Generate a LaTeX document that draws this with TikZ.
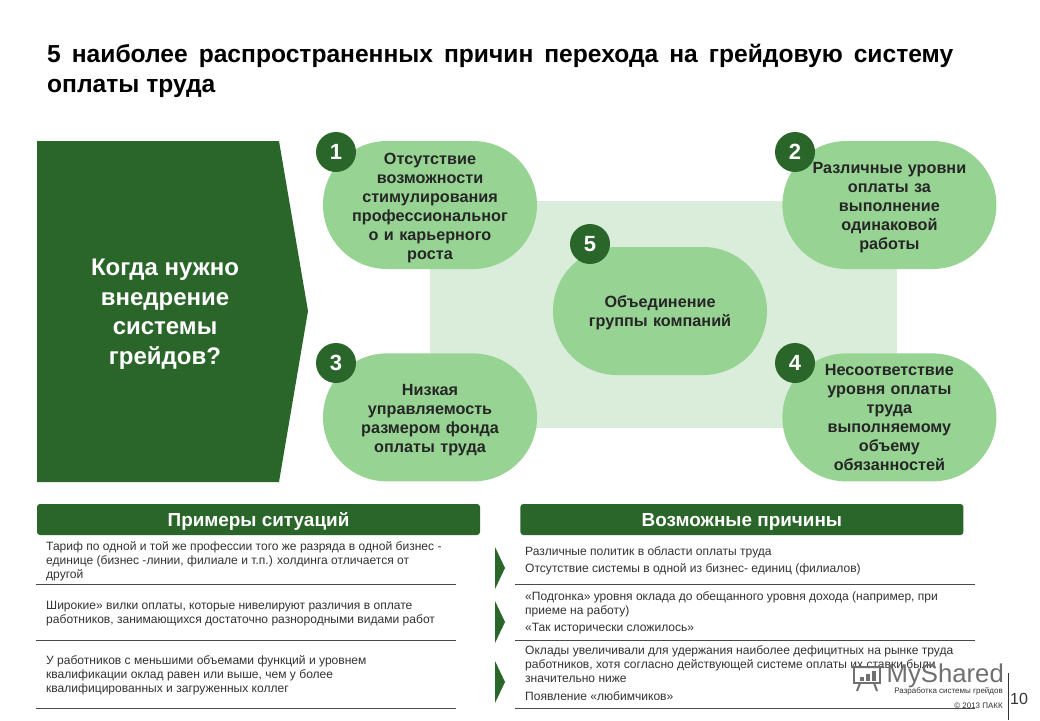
\documentclass[tikz,border=0pt]{standalone}
\usepackage{fontspec}
\setmainfont{Liberation Sans}
\usepackage{tikz}
\usetikzlibrary{positioning}
\definecolor{grDark}{HTML}{2A6529}
\definecolor{grPill}{HTML}{97D494}
\definecolor{grPale}{HTML}{DAEDDA}
\definecolor{grText}{HTML}{333333}
\definecolor{grRule}{HTML}{4A4A4A}
\definecolor{grMark}{HTML}{707070}
\tikzset{
    grPillBase/.style={
        rectangle,
        rounded corners=63.9pt,
        fill=grPill,
        minimum width=214pt,
        minimum height=128pt,
        inner sep=0pt,
        text width=190pt,
        align=center,
        text=black!85,
        font=\fontsize{16.2}{19}\selectfont\bfseries,
        execute at begin node={\rule{0pt}{#1}}
    },
    grPillBase/.default=15.7pt,
    grBadge/.style={
        circle,
        fill=grDark,
        minimum size=40pt,
        inner sep=0pt,
        text=white,
        font=\fontsize{22}{24}\selectfont\bfseries
    },
    grHeader/.style={
        rectangle,
        rounded corners=3pt,
        fill=grDark,
        minimum width=443pt,
        minimum height=31pt,
        inner sep=0pt,
        text height=13pt,
        text depth=0pt,
        text=white,
        font=\fontsize{18.9}{20}\selectfont\bfseries
    },
    grNote/.style={
        anchor=north west,
        inner sep=0pt,
        text=grText,
        align=left,
        font=\fontsize{12.05}{14}\selectfont
    },
    grRuleLine/.style={draw=grRule, line width=1pt},
    grChevron/.style={fill=grDark},
    grFooter/.style={anchor=east, inner sep=0pt, text=grText, font=\fontsize{8}{9}\selectfont}
}
\begin{document}
\begin{tikzpicture}[x=1pt,y=-1pt]
\useasboundingbox (0,0) rectangle (1040,720);
\fill[white] (0,0) rectangle (1040,720);

% Title
\node[anchor=north west, inner sep=0pt, align=left,
      font=\fontsize{24.6}{30}\selectfont\bfseries, text=black] (title) at (47,44)
    {\makebox[906pt][s]{5 наиболее распространенных причин перехода на грейдовую систему}\\оплаты труда};

% Left panel
\fill[grDark] (37,141) -- (279,141) -- (308,311) -- (279,482) -- (37,482) -- cycle;
\node[align=center, text=white, font=\fontsize{24}{29.5}\selectfont\bfseries] (question) at (165,314)
    {Когда нужно\\внедрение\\системы\\грейдов?};

% Pills
\fill[grPale] (430,201) rectangle (897,428);
\node[grPillBase=17.7pt] (pillOne) at (430,205)
    {Отсутствие\\возможности\\стимулирования\\профессиональног\\о и карьерного\\роста};
\node[grPillBase, right=245pt of pillOne] (pillTwo)
    {Различные уровни\\оплаты за\\выполнение\\одинаковой\\работы};
\node[grPillBase, below=84pt of pillOne] (pillThree)
    {Низкая\\управляемость\\размером фонда\\оплаты труда};
\node[grPillBase=0pt, below=84pt of pillTwo] (pillFour)
    {Несоответствие\\уровня оплаты\\труда\\выполняемому\\объему\\обязанностей};
\node[grPillBase] (pillFive) at (660,311)
    {Объединение\\группы компаний};

% Badges
\node[grBadge] (badgeOne) at (336,152) {1};
\node[grBadge] (badgeTwo) at (795,152) {2};
\node[grBadge] (badgeThree) at (336,363) {3};
\node[grBadge] (badgeFour) at (795,363) {4};
\node[grBadge] (badgeFive) at (590,244) {5};

% Headers
\node[grHeader] (headLeft) at (258.5,519.5) {Примеры ситуаций};
\node[grHeader, right=40pt of headLeft] (headRight) {Возможные причины};

% Left column
\node[grNote] (sitOne) at (46,541) {Тариф по одной и той же профессии того же разряда в одной бизнес -\\единице (бизнес -линии, филиале и т.п.) холдинга отличается от\\другой};
\node[grNote] (sitTwo) at (46,601) {Широкие» вилки оплаты, которые нивелируют различия в оплате\\работников, занимающихся достаточно разнородными видами работ};
\node[grNote] (sitThree) at (46,655) {У работников с меньшими объемами функций и уровнем\\квалификации оклад равен или выше, чем  у более\\квалифицированных и загруженных коллег};

% Right column
\node[grNote] (whyOne) at (525,546) {Различные политик в области оплаты труда};
\node[grNote] (whyTwo) at (525,563) {Отсутствие системы в  одной из бизнес- единиц (филиалов)};
\node[grNote] (whyThree) at (525,591) {«Подгонка» уровня оклада до обещанного уровня дохода (например, при\\приеме на работу)};
\node[grNote] (whyFour) at (525,623) {«Так исторически сложилось»};
\node[grNote] (whyFive) at (525,645) {Оклады увеличивали для удержания наиболее дефицитных на рынке труда\\работников, хотя согласно действующей системе оплаты их ставки были\\значительно ниже};
\node[grNote] (whySix) at (525,691) {Появление «любимчиков»};

% Rules and chevrons
\foreach \ypos in {584.5,640,708} {
    \draw[grRuleLine] (36,\ypos) -- (456,\ypos);
    \draw[grRuleLine] (515,\ypos) -- (975,\ypos);
}
\foreach \ytop in {547,601,661} {
    \fill[grChevron] (495,\ytop) -- (505,\ytop+21) -- (495,\ytop+42) -- cycle;
}

% Watermark and footer
\node[anchor=east, inner sep=0pt, text=grMark, font=\fontsize{25.7}{30}\selectfont] (mark) at (1004,676) {MyShared};
\draw[grMark, line width=2pt] (854,667) rectangle (880,683);
\draw[grMark, line width=2pt] (851,667) -- (883,667) (860,683) -- (857,691) (874,683) -- (877,691);
\foreach \xbar/\hbar in {860/4,866/7,872/10} {
    \fill[grMark] (\xbar,681) rectangle ++(3.5,-\hbar);
}
\node[grFooter] (footer) at (1003,691) {Разработка системы грейдов};
\node[grFooter] (copy) at (1003,706) {© 2013  ПАКК};
\draw[black!80, line width=0.8pt] (1008,673) -- (1008,720);
\node[inner sep=0pt, text=grText, font=\fontsize{16}{18}\selectfont] (pagenum) at (1019,699) {10};
\end{tikzpicture}
\end{document}
